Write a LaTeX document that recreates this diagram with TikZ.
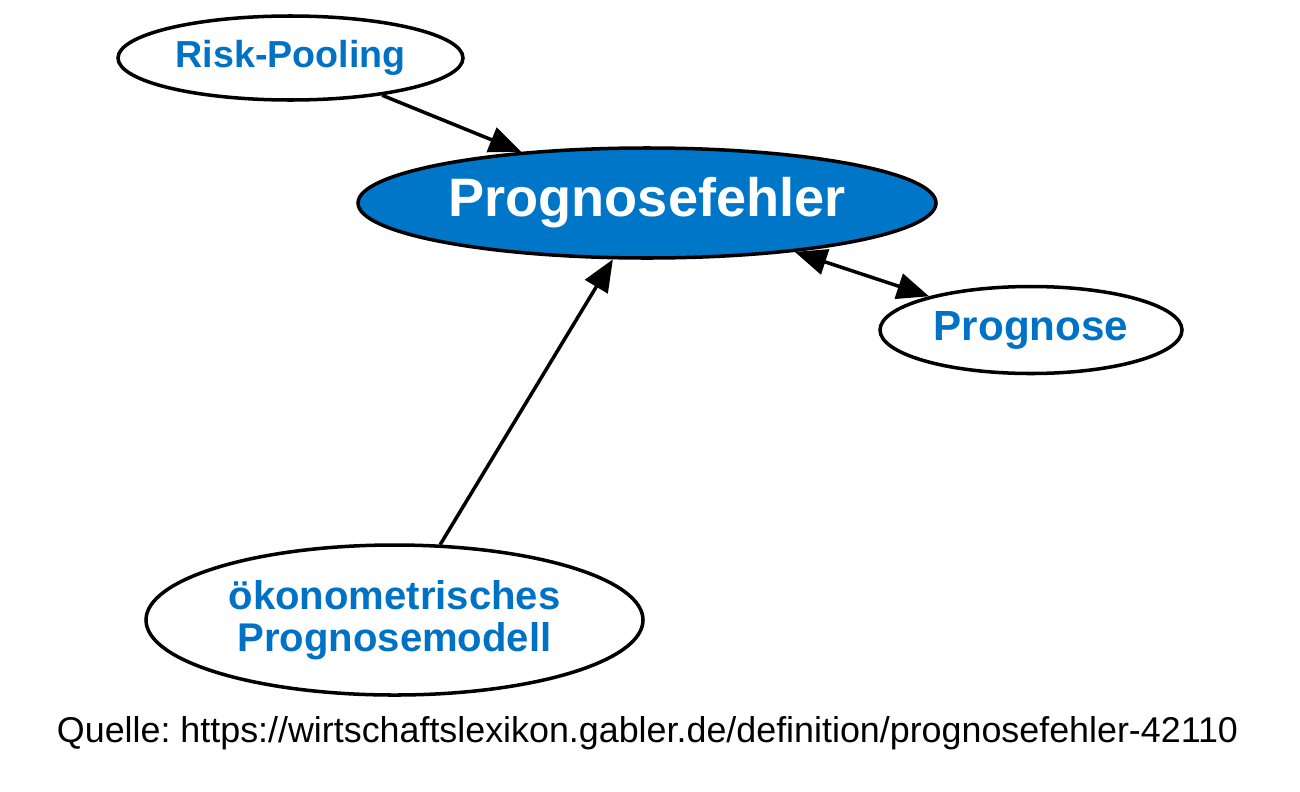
\documentclass[tikz,border=0pt]{standalone}
\usepackage{fontspec}
\setmainfont{Liberation Sans}
\usetikzlibrary{shapes.geometric,arrows.meta}
\definecolor{gblue}{RGB}{0,114,198}
\definecolor{gfill}{RGB}{0,118,200}
\frenchspacing
\begin{document}
\begin{tikzpicture}[
  ell/.style={ellipse, draw=black, line width=1pt, inner sep=0pt, text=gblue, fill=white},
  edge/.style={line width=1pt, draw=black, -{Triangle[length=0.32cm,width=0.26cm]}},
  bothedge/.style={line width=1pt, draw=black, {Triangle[length=0.32cm,width=0.26cm]}-{Triangle[length=0.32cm,width=0.26cm]}}
]
\useasboundingbox (0,0) rectangle (13,-7.91);
\node[ell, minimum width=3.45cm, minimum height=0.84cm, font=\fontsize{10.7}{12}\selectfont\bfseries] (risk) at (2.905,-0.58) {\raisebox{-0.6pt}{Risk-Pooling}};
\node[ell, fill=gfill, text=white, minimum width=5.78cm, minimum height=1.10cm, font=\fontsize{15.4}{17}\selectfont\bfseries] (main) at (6.47,-2.03) {Prognosefehler};
\node[ell, minimum width=3.02cm, minimum height=0.87cm, font=\fontsize{12}{14}\selectfont\bfseries] (prog) at (10.31,-3.30) {Prognose};
\node[ell, minimum width=4.97cm, minimum height=1.50cm, align=center, font=\fontsize{11.4}{12}\selectfont\bfseries] (oek) at (3.945,-6.20) {ökonometrisches\\Prognosemodell};
\node[inner sep=0pt, font=\fontsize{10.2}{12}\selectfont] (src) at (6.475,-7.33) {Quelle: https://wirtschaftslexikon.gabler.de/definition/prognosefehler-42110};
\draw[edge] (risk) -- (main);
\draw[bothedge] (main) -- (prog);
\draw[edge] (oek) -- (main);
\end{tikzpicture}
\end{document}
